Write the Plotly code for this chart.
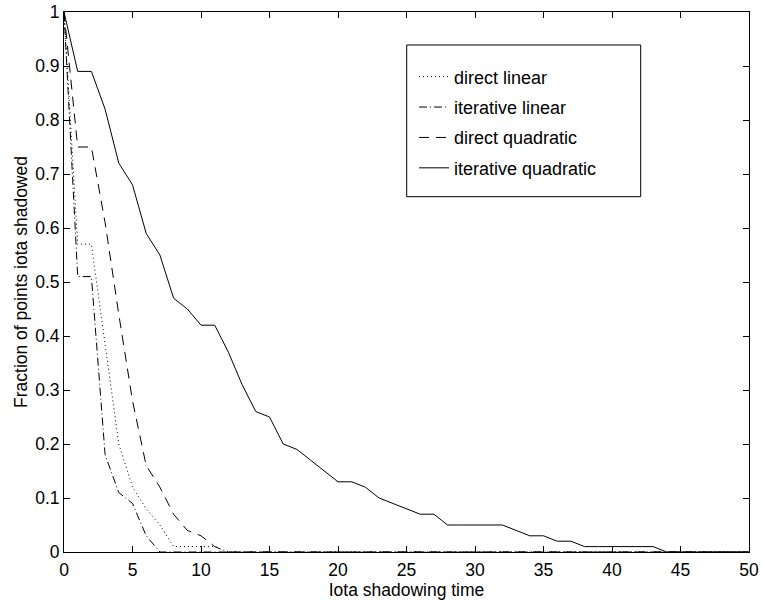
import plotly.graph_objects as go

time = list(range(0, 51))

direct_linear = [1.00, 0.57, 0.57, 0.38, 0.20, 0.12, 0.08, 0.05, 0.01, 0.01,
                 0.01, 0.01] + [0.0] * 39
iterative_linear = [1.00, 0.51, 0.51, 0.18, 0.11, 0.09, 0.03] + [0.0] * 44
direct_quadratic = [1.00, 0.75, 0.75, 0.61, 0.44, 0.28, 0.16, 0.12, 0.07, 0.04,
                    0.03, 0.01] + [0.0] * 39
iterative_quadratic = [1.00, 0.89, 0.89, 0.82, 0.72, 0.68, 0.59, 0.55, 0.47, 0.45,
                       0.42, 0.42, 0.37, 0.31, 0.26, 0.25, 0.20, 0.19, 0.17, 0.15,
                       0.13, 0.13, 0.12, 0.10, 0.09, 0.08, 0.07, 0.07, 0.05, 0.05,
                       0.05, 0.05, 0.05, 0.04, 0.03, 0.03, 0.02, 0.02, 0.01, 0.01,
                       0.01, 0.01, 0.01, 0.01, 0.00, 0.00, 0.00, 0.00, 0.00, 0.00, 0.00]

series_names = ["direct linear", "iterative linear", "direct quadratic", "iterative quadratic"]
series_values = [direct_linear, iterative_linear, direct_quadratic, iterative_quadratic]
series_dash = ["1px,3px", "8px,3px,1px,3px", "10px,7px", "solid"]

x_ticks = list(range(0, 51, 5))
y_ticks = [round(i * 0.1, 1) for i in range(11)]
y_tick_text = ["0", "0.1", "0.2", "0.3", "0.4", "0.5", "0.6", "0.7", "0.8", "0.9", "1"]

FONT = "Liberation Sans, Arial, Helvetica, sans-serif"

fig = go.Figure()
for i, (name, vals, dash) in enumerate(zip(series_names, series_values, series_dash)):
    fig.add_trace(go.Scatter(
        x=time, y=vals, mode="lines", name=name, legendgroup=f"g{i}",
        line=dict(color="black", width=1, dash=dash),
    ))

# legend frame (MATLAB style box)
fig.add_shape(type="rect", xref="paper", yref="paper",
              x0=0.5003, x1=0.8419, y0=0.658, y1=0.9389,
              line=dict(color="black", width=1), fillcolor="white", layer="below")

fig.update_layout(
    width=762, height=600,
    margin=dict(l=64, r=13, t=12, b=48, autoexpand=False),
    paper_bgcolor="white", plot_bgcolor="white",
    font=dict(family=FONT, size=17.5, color="black"),
    showlegend=True,
    legend=dict(
        x=0.511, y=0.914, xanchor="left", yanchor="top",
        bgcolor="rgba(0,0,0,0)", borderwidth=0,
        traceorder="grouped", tracegroupgap=4,
        font=dict(family=FONT, size=18, color="black"),
        itemwidth=30,
    ),
    xaxis=dict(
        range=[0, 50], tickmode="array", tickvals=x_ticks,
        showgrid=False, zeroline=False, automargin=False,
        showline=True, linecolor="black", linewidth=1, mirror="ticks",
        ticks="inside", ticklen=6, tickcolor="black",
        tickfont=dict(size=17.5), ticklabelstandoff=2,
        title=dict(text="Iota shadowing time", font=dict(size=17.5), standoff=4),
    ),
    yaxis=dict(
        range=[0, 1], tickmode="array", tickvals=y_ticks, ticktext=y_tick_text,
        showgrid=False, zeroline=False, automargin=False,
        showline=True, linecolor="black", linewidth=1, mirror="ticks",
        ticks="inside", ticklen=6, tickcolor="black",
        tickfont=dict(size=17.5),
        title=dict(text="Fraction of points iota shadowed", font=dict(size=17.5), standoff=3),
    ),
)

fig.write_html(
    "out.html",
    config={"displayModeBar": False},
    post_script="document.body.style.margin='0px';document.body.style.overflow='hidden';",
)
